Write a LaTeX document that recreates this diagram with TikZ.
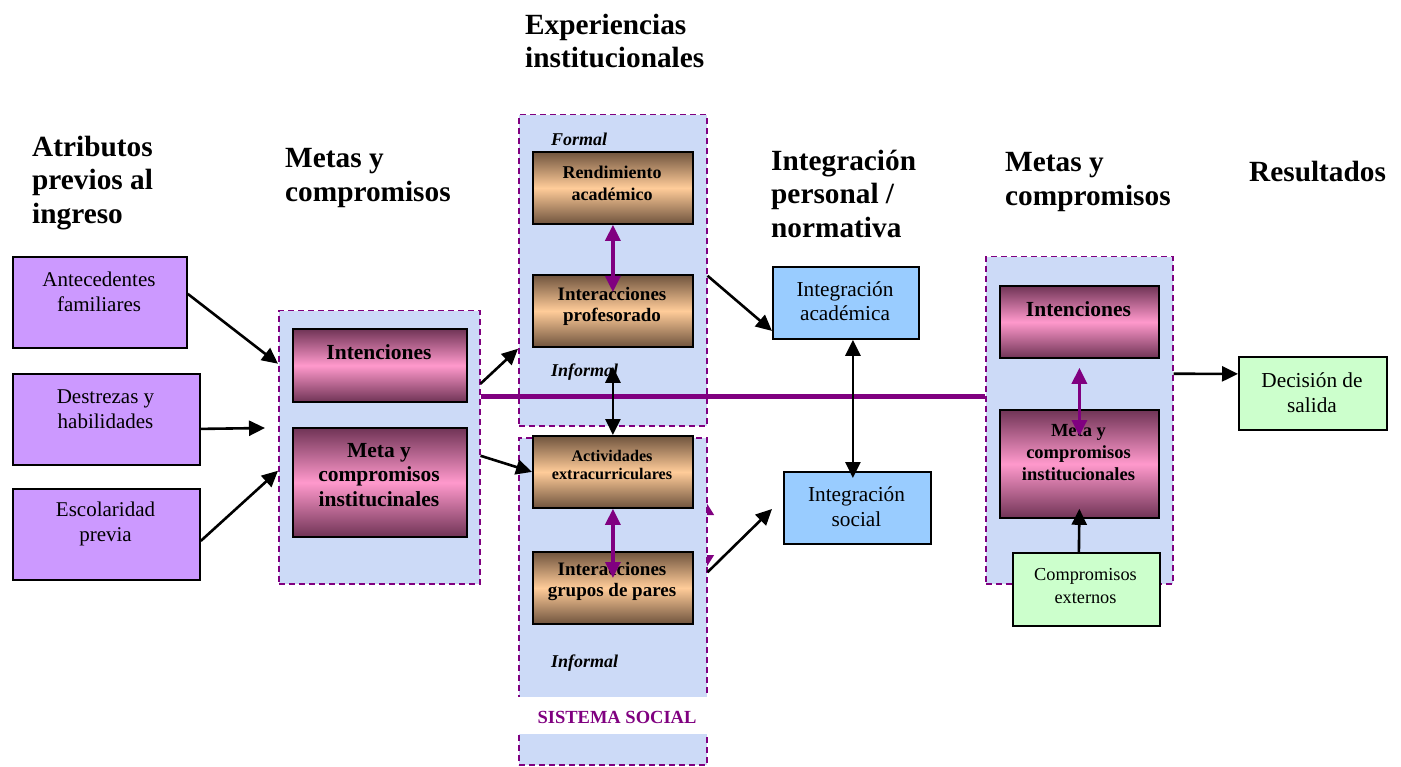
\documentclass[tikz,border=0pt]{standalone}
\usepackage{fontspec}
\setmainfont{Liberation Serif}
\usetikzlibrary{arrows.meta}
\definecolor{pur}{HTML}{800080}
\definecolor{lilac}{HTML}{CC99FF}
\definecolor{skyb}{HTML}{99CCFF}
\definecolor{mint}{HTML}{CCFFCC}
\definecolor{contfill}{RGB}{204,218,247}
\definecolor{pinkmid}{HTML}{FF99CC}
\definecolor{pinkdark}{RGB}{112,52,86}
\definecolor{peach}{HTML}{FFCC99}
\definecolor{browndark}{RGB}{112,84,62}
\begin{document}
\begin{tikzpicture}[x=1pt,y=-1pt,
  box/.style={draw=black, line width=1.8pt, anchor=north west, inner sep=0pt},
  plainbox/.style={box},
  pinkbox/.style={box, top color=pinkdark, bottom color=pinkdark, middle color=pinkmid},
  brownbox/.style={box, top color=browndark, bottom color=browndark, middle color=peach},
  cont/.style={draw=pur, fill=contfill, line width=1.5pt, dash pattern=on 6pt off 4pt, anchor=north west, inner sep=0pt},
  title/.style={font={\fontsize{29.3}{33.5}\selectfont\bfseries}, align=left, anchor=west, inner sep=0pt},
  regt/.style={font={\fontsize{21}{25}\selectfont}, align=center, inner sep=0pt},
  boldt/.style={font={\fontsize{#1}{#1}\selectfont\bfseries}, align=center, inner sep=0pt},
  itt/.style={font={\fontsize{18}{20}\selectfont\bfseries\itshape}, anchor=west, inner sep=0pt},
  arr/.style={line width=2.6pt, -{Triangle[length=16pt,width=15pt]}},
  darr/.style={line width=2.6pt, {Triangle[length=16pt,width=15pt]}-{Triangle[length=16pt,width=15pt]}},
  parr/.style={draw=pur, line width=3.2pt, {Triangle[length=16pt,width=15pt]}-{Triangle[length=16pt,width=15pt]}}
]
\path[use as bounding box] (0,0) rectangle (1401,767);

% titles
\node[title] (t1) at (32,183) {Atributos\\previos al\\ingreso};
\node[title] (t2) at (285,178) {Metas y\\compromisos};
\node[title] (t3) at (525,41) {Experiencias\\institucionales};
\node[title] (t4) at (771,193.5) {Integración\\personal /\\normativa};
\node[title] (t5) at (1005,182) {Metas y\\compromisos};
\node[title] (t6) at (1249,172) {Resultados};

% small half-hidden purple arrow
\coordinate (sa1) at (706,502);
\coordinate (sa2) at (706,568);
\draw[pur, line width=1.5pt, {Triangle[length=13pt,width=16pt]}-{Triangle[length=13pt,width=16pt]}] (sa1) -- (sa2);

% containers
\node[cont, minimum width=201, minimum height=273] (lcont) at (278,310) {};
\node[cont, minimum width=188, minimum height=311] (ucont) at (518,114) {};
\node[cont, minimum width=188, minimum height=327] (bcont) at (518,437) {};
\node[cont, minimum width=187, minimum height=327] (rcont) at (985,256) {};

% SISTEMA SOCIAL band
\node[fill=white, minimum width=212, minimum height=37, inner sep=0pt] (band) at (615,715.5) {};
\node[boldt=18.5, text=pur] (ss) at (617,717) {SISTEMA SOCIAL};

% left boxes
\node[plainbox, fill=lilac, minimum width=174, minimum height=91] (ante) at (12,256) {};
\node[plainbox, fill=lilac, minimum width=187, minimum height=91] (destr) at (12,373) {};
\node[plainbox, fill=lilac, minimum width=187, minimum height=91] (escol) at (12,488) {};
\node[regt] (ante-t) at (99,292) {Antecedentes\\familiares};
\node[regt] (destr-t) at (105.5,409) {Destrezas y\\habilidades};
\node[regt] (escol-t) at (105.5,524) {Escolaridad\\previa};

% left container boxes
\node[pinkbox, minimum width=174, minimum height=73] (lint) at (292,328) {};
\node[pinkbox, minimum width=174, minimum height=109] (lmeta) at (292,427) {};
\node[boldt=21.5] (lint-t) at (379,352) {Intenciones};
\node[font={\fontsize{21.5}{24.5}\selectfont\bfseries}, align=center, inner sep=0pt] (lmeta-t) at (379,475) {Meta y\\compromisos\\institucinales};

% experience boxes
\node[brownbox, minimum width=160, minimum height=72] (rend) at (532,151) {};
\node[brownbox, minimum width=160, minimum height=72] (iprof) at (532,274) {};
\node[brownbox, minimum width=160, minimum height=72] (activ) at (532,435) {};
\node[brownbox, minimum width=160, minimum height=72] (igrup) at (532,551) {};
\node[itt] (formal) at (551,139) {Formal};
\node[itt] (inf1) at (551,372) {Informal};
\node[itt] (inf2) at (551,663) {Informal};
\node[font={\fontsize{18}{22}\selectfont\bfseries}, align=center, inner sep=0pt] (rend-t) at (612,183) {Rendimiento\\académico};
\node[font={\fontsize{19}{21}\selectfont\bfseries}, align=center, inner sep=0pt] (iprof-t) at (612,306) {Interacciones\\profesorado};
\node[font={\fontsize{16.2}{18}\selectfont\bfseries}, align=center, inner sep=0pt] (activ-t) at (612,465) {Actividades\\extracurriculares};
\node[font={\fontsize{19}{21}\selectfont\bfseries}, align=center, inner sep=0pt] (igrup-t) at (612,582) {Interacciones\\grupos de pares};

% integration boxes
\node[plainbox, fill=skyb, minimum width=146, minimum height=72] (iacad) at (772,266) {};
\node[plainbox, fill=skyb, minimum width=147, minimum height=72] (isoc) at (783,471) {};
\node[font={\fontsize{21.3}{24}\selectfont}, align=center, inner sep=0pt] (iacad-t) at (845,301) {Integración\\académica};
\node[font={\fontsize{21.3}{25}\selectfont}, align=center, inner sep=0pt] (isoc-t) at (856.5,507) {Integración\\social};

% right container boxes
\node[pinkbox, minimum width=159, minimum height=72] (rint) at (999,285) {};
\node[pinkbox, minimum width=159, minimum height=108] (rmeta) at (999,409) {};
\node[boldt=21.5] (rint-t) at (1078.5,309) {Intenciones};
\node[font={\fontsize{18.5}{22}\selectfont\bfseries}, align=center, inner sep=0pt] (rmeta-t) at (1078.5,453) {Meta y\\compromisos\\institucionales};
\node[plainbox, fill=mint, minimum width=147, minimum height=73] (cext) at (1012,552) {};
\node[font={\fontsize{18.3}{23}\selectfont}, align=center, inner sep=0pt] (cext-t) at (1085.5,586) {Compromisos\\externos};
\node[plainbox, fill=mint, minimum width=148, minimum height=73] (decis) at (1238,356) {};
\node[font={\fontsize{21.3}{25}\selectfont}, align=center, inner sep=0pt] (decis-t) at (1312,393) {Decisión de\\salida};

% thick purple line
\draw[pur, line width=5pt] ([yshift=50.5]lcont.east) -- ([yshift=23.5]rcont.west);

% connectors
\coordinate (c2) at (265,428);
\coordinate (c7) at (772,509);
\draw[arr] ([yshift=8.5]ante.east) -- ([yshift=83.5]lcont.west);
\draw[arr] ([yshift=-9.5]destr.east) -- (c2);
\draw[arr] ([yshift=-6.5]escol.east) -- ([yshift=-23.5]lcont.west);
\draw[arr] ([yshift=63.5]lcont.east) -- ([yshift=-78.5]ucont.west);
\draw[arr] ([yshift=-8.5]lcont.east) -- (activ.west);
\draw[arr] ([yshift=-5.5]ucont.east) -- ([yshift=-28]iacad.west);
\draw[arr] ([yshift=29]bcont.east) -- (c7);
\draw[darr] ([xshift=7]iacad.south) -- ([xshift=-4.5,yshift=-7]isoc.north);
\draw[parr] (rend.south) -- ([yshift=-18]iprof.north);
\draw[darr] ([yshift=-19]iprof.south) -- (activ.north);
\draw[parr] (activ.south) -- ([yshift=-27]igrup.north);
\draw[parr] ([yshift=-9]rint.south) -- ([yshift=-27]rmeta.north);
\draw[arr] ([xshift=-7.5]cext.north) -- ([yshift=10]rmeta.south);
\draw[arr] ([yshift=46.5]rcont.east) -- ([yshift=19.5]decis.west);
\end{tikzpicture}
\end{document}
